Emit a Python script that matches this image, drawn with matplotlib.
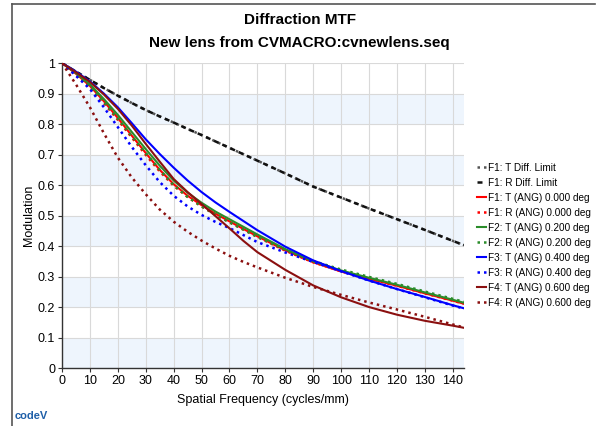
"""Diffraction MTF chart (CODE V style) rebuilt with matplotlib."""

import matplotlib

matplotlib.use("Agg")
import matplotlib.pyplot as plt
from matplotlib.lines import Line2D

plt.rcParams["font.family"] = ["Liberation Sans", "DejaVu Sans"]

# spatial frequency samples (cycles/mm)
freq = [0, 5, 10, 15, 20, 25, 30, 35, 40, 45, 50, 55, 60, 65, 70,
        80, 90, 100, 110, 120, 130, 140, 144]

diff_limit = [1.0, 0.972, 0.945, 0.918, 0.893, 0.869, 0.846, 0.825, 0.805, 0.784, 0.764,
              0.743, 0.722, 0.701, 0.680, 0.638, 0.595, 0.559, 0.523, 0.488, 0.453, 0.417, 0.403]
f1_t = [1.0, 0.965, 0.925, 0.875, 0.820, 0.762, 0.705, 0.650, 0.603, 0.565, 0.534,
        0.506, 0.481, 0.456, 0.432, 0.386, 0.347, 0.317, 0.293, 0.270, 0.245, 0.221, 0.211]
f1_r = [1.0, 0.962, 0.920, 0.869, 0.814, 0.756, 0.699, 0.645, 0.598, 0.561, 0.530,
        0.503, 0.478, 0.454, 0.430, 0.385, 0.347, 0.317, 0.293, 0.270, 0.245, 0.221, 0.211]
f2_t = [1.0, 0.967, 0.930, 0.882, 0.830, 0.774, 0.718, 0.664, 0.615, 0.575, 0.542,
        0.513, 0.488, 0.463, 0.438, 0.390, 0.350, 0.320, 0.296, 0.273, 0.248, 0.224, 0.214]
f2_r = [1.0, 0.963, 0.922, 0.872, 0.818, 0.760, 0.705, 0.650, 0.600, 0.561, 0.530,
        0.503, 0.478, 0.454, 0.430, 0.388, 0.351, 0.323, 0.299, 0.276, 0.251, 0.227, 0.217]
f3_t = [1.0, 0.972, 0.940, 0.900, 0.855, 0.803, 0.750, 0.702, 0.657, 0.615, 0.577,
        0.543, 0.512, 0.482, 0.452, 0.398, 0.353, 0.318, 0.287, 0.259, 0.233, 0.206, 0.196]
f3_r = [1.0, 0.958, 0.915, 0.855, 0.790, 0.725, 0.665, 0.610, 0.565, 0.530, 0.502,
        0.479, 0.459, 0.436, 0.413, 0.379, 0.348, 0.317, 0.287, 0.259, 0.232, 0.205, 0.195]
f4_t = [1.0, 0.970, 0.938, 0.897, 0.850, 0.795, 0.735, 0.677, 0.620, 0.577, 0.538,
        0.498, 0.458, 0.417, 0.380, 0.322, 0.271, 0.232, 0.200, 0.175, 0.155, 0.139, 0.132]
f4_r = [1.0, 0.930, 0.855, 0.770, 0.690, 0.625, 0.570, 0.520, 0.480, 0.447, 0.418,
        0.392, 0.368, 0.348, 0.330, 0.296, 0.266, 0.240, 0.215, 0.192, 0.168, 0.143, 0.133]

x_ticks = list(range(0, 150, 10))
y_ticks = [0, 0.1, 0.2, 0.3, 0.4, 0.5, 0.6, 0.7, 0.8, 0.9, 1]
y_tick_labels = ["0", "0.1", "0.2", "0.3", "0.4", "0.5", "0.6", "0.7", "0.8", "0.9", "1"]

RED = "#ff0000"
GREEN = "#2a8c2a"
BLUE = "#0000ff"
MAROON = "#8b1010"
DOT = (0, (1, 1.6))

series = [
    ("F1: T Diff. Limit", diff_limit, "#555555", DOT),
    ("F1: R Diff. Limit", diff_limit, "#111111", (0, (2, 1.6))),
    ("F1: T (ANG) 0.000 deg", f1_t, RED, "-"),
    ("F1: R (ANG) 0.000 deg", f1_r, RED, DOT),
    ("F2: T (ANG) 0.200 deg", f2_t, GREEN, "-"),
    ("F2: R (ANG) 0.200 deg", f2_r, GREEN, DOT),
    ("F3: T (ANG) 0.400 deg", f3_t, BLUE, "-"),
    ("F3: R (ANG) 0.400 deg", f3_r, BLUE, DOT),
    ("F4: T (ANG) 0.600 deg", f4_t, MAROON, "-"),
    ("F4: R (ANG) 0.600 deg", f4_r, MAROON, DOT),
]

fig = plt.figure(figsize=(5.99, 4.26), dpi=100)
ax = fig.add_axes([0.1035, 0.136, 0.671, 0.716])

# alternating light bands
for lo in [0.0, 0.2, 0.4, 0.6, 0.8]:
    ax.axhspan(lo, lo + 0.1, color="#eef5fd", zorder=0, lw=0)

for label, values, color, style in series:
    ax.plot(freq, values, color=color, linestyle=style, linewidth=1.5 if style == "-" else 1.8,
            label=label, zorder=3)

ax.set_xlim(0, 144)
ax.set_ylim(0, 1)
ax.set_xticks(x_ticks)
ax.set_yticks(y_ticks)
ax.set_yticklabels(y_tick_labels)
ax.grid(True, color="#d9d9d9", linewidth=0.8, zorder=1)
ax.set_axisbelow(True)
ax.tick_params(labelsize=9, length=3, color="#333333", pad=2)
for side in ["top", "right"]:
    ax.spines[side].set_visible(False)
for side in ["left", "bottom"]:
    ax.spines[side].set_color("#333333")
    ax.spines[side].set_linewidth(1.0)

ax.set_xlabel("Spatial Frequency (cycles/mm)", fontsize=9, labelpad=5)
ax.set_ylabel("Modulation", fontsize=9, labelpad=2)

fig.text(0.5, 0.952, "Diffraction MTF", ha="center", va="center", fontsize=11, fontweight="bold")
fig.text(0.5, 0.900, "New lens from CVMACRO:cvnewlens.seq", ha="center", va="center",
         fontsize=11, fontweight="bold")

ax.legend(loc="upper left", bbox_to_anchor=(0.789, 0.627), bbox_transform=fig.transFigure,
          frameon=False, fontsize=7.2, handlelength=0.9, handletextpad=0.25,
          labelspacing=0.5, borderaxespad=0)

# frame around the figure (top and left edges)
fig.add_artist(Line2D([0.02, 0.993], [0.99, 0.99], color="#555555", lw=1.2))
fig.add_artist(Line2D([0.02, 0.02], [0.0, 0.99], color="#555555", lw=1.2))

fig.text(0.024, 0.012, "codeV", color="#1f5fa8", fontsize=8, fontweight="bold", va="bottom")

fig.savefig("out.png", dpi=100)
